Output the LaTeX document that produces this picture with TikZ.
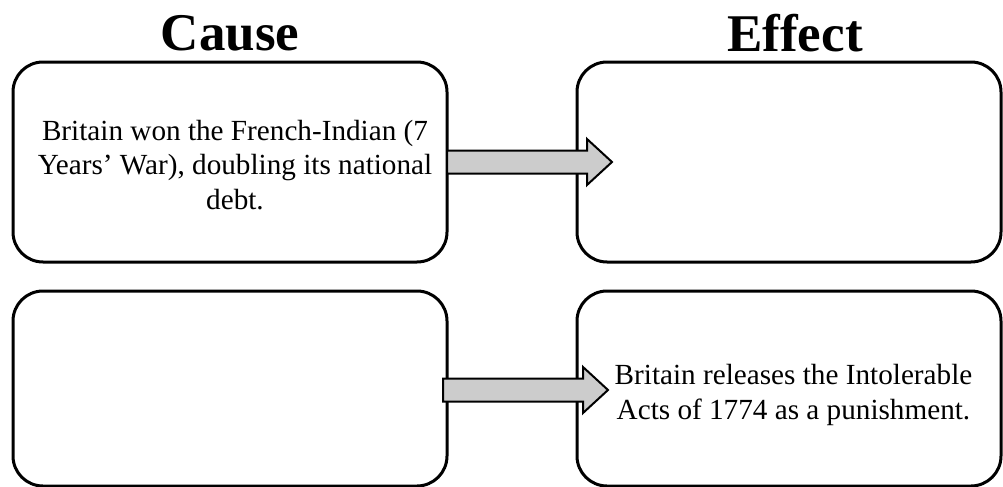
\documentclass[tikz,border=0pt]{standalone}
\usepackage{fontspec}
\setmainfont{Liberation Serif}
\usetikzlibrary{positioning}
\definecolor{arrowgray}{RGB}{204,204,204}
\tikzset{
    headline/.style = {font=\fontsize{26.5}{30}\selectfont\bfseries, inner sep=0pt},
    ebox/.style = {rectangle, rounded corners=15pt, line width=1.5pt, draw=black, outer sep=0pt},
    etext/.style = {align=center, inner sep=0pt, font=\fontsize{14.6}{17.3}\selectfont},
    fatarrow/.style = {line width=1pt, draw=black, fill=arrowgray, line join=miter},
}

\begin{document}
\begin{tikzpicture}[x=0.5pt, y=-0.5pt]
\useasboundingbox (0,0) rectangle (1003,487);

\node[headline] at (230,33) (cause) {Cause};
\node[headline] at (795,33) (effect) {Effect};

\node[ebox, minimum width=217pt, minimum height=100pt] at (230,162) (c1) {};
\node[ebox, minimum width=212pt, minimum height=100pt] at (789,162) (e1) {};
\node[ebox, minimum width=217pt, minimum height=97.5pt] at (230,388.5) (c2) {};
\node[ebox, minimum width=212pt, minimum height=97.5pt] at (789,388.5) (e2) {};
%
\node[etext] at (235,165) (c1txt)
  {Britain won the French-Indian (7\\Years' War), doubling its national\\debt.};
\node[etext] at (793.5,395) (e2txt)
  {Britain releases the Intolerable\\Acts of 1774 as a punishment.};
%
\draw[fatarrow] (c1.east) ++(0,-11.5) -- ++(140,0) -- ++(0,-11.5) -- ++(25,23)
  -- ++(-25,23) -- ++(0,-11.5) -- ++(-140,0) -- cycle;
\draw[fatarrow] ([xshift=-2pt,yshift=-0.75pt]c2.east) ++(0,-11.5) -- ++(140,0) -- ++(0,-11.5) -- ++(25,23)
  -- ++(-25,23) -- ++(0,-11.5) -- ++(-140,0) -- cycle;

\end{tikzpicture}
\end{document}
